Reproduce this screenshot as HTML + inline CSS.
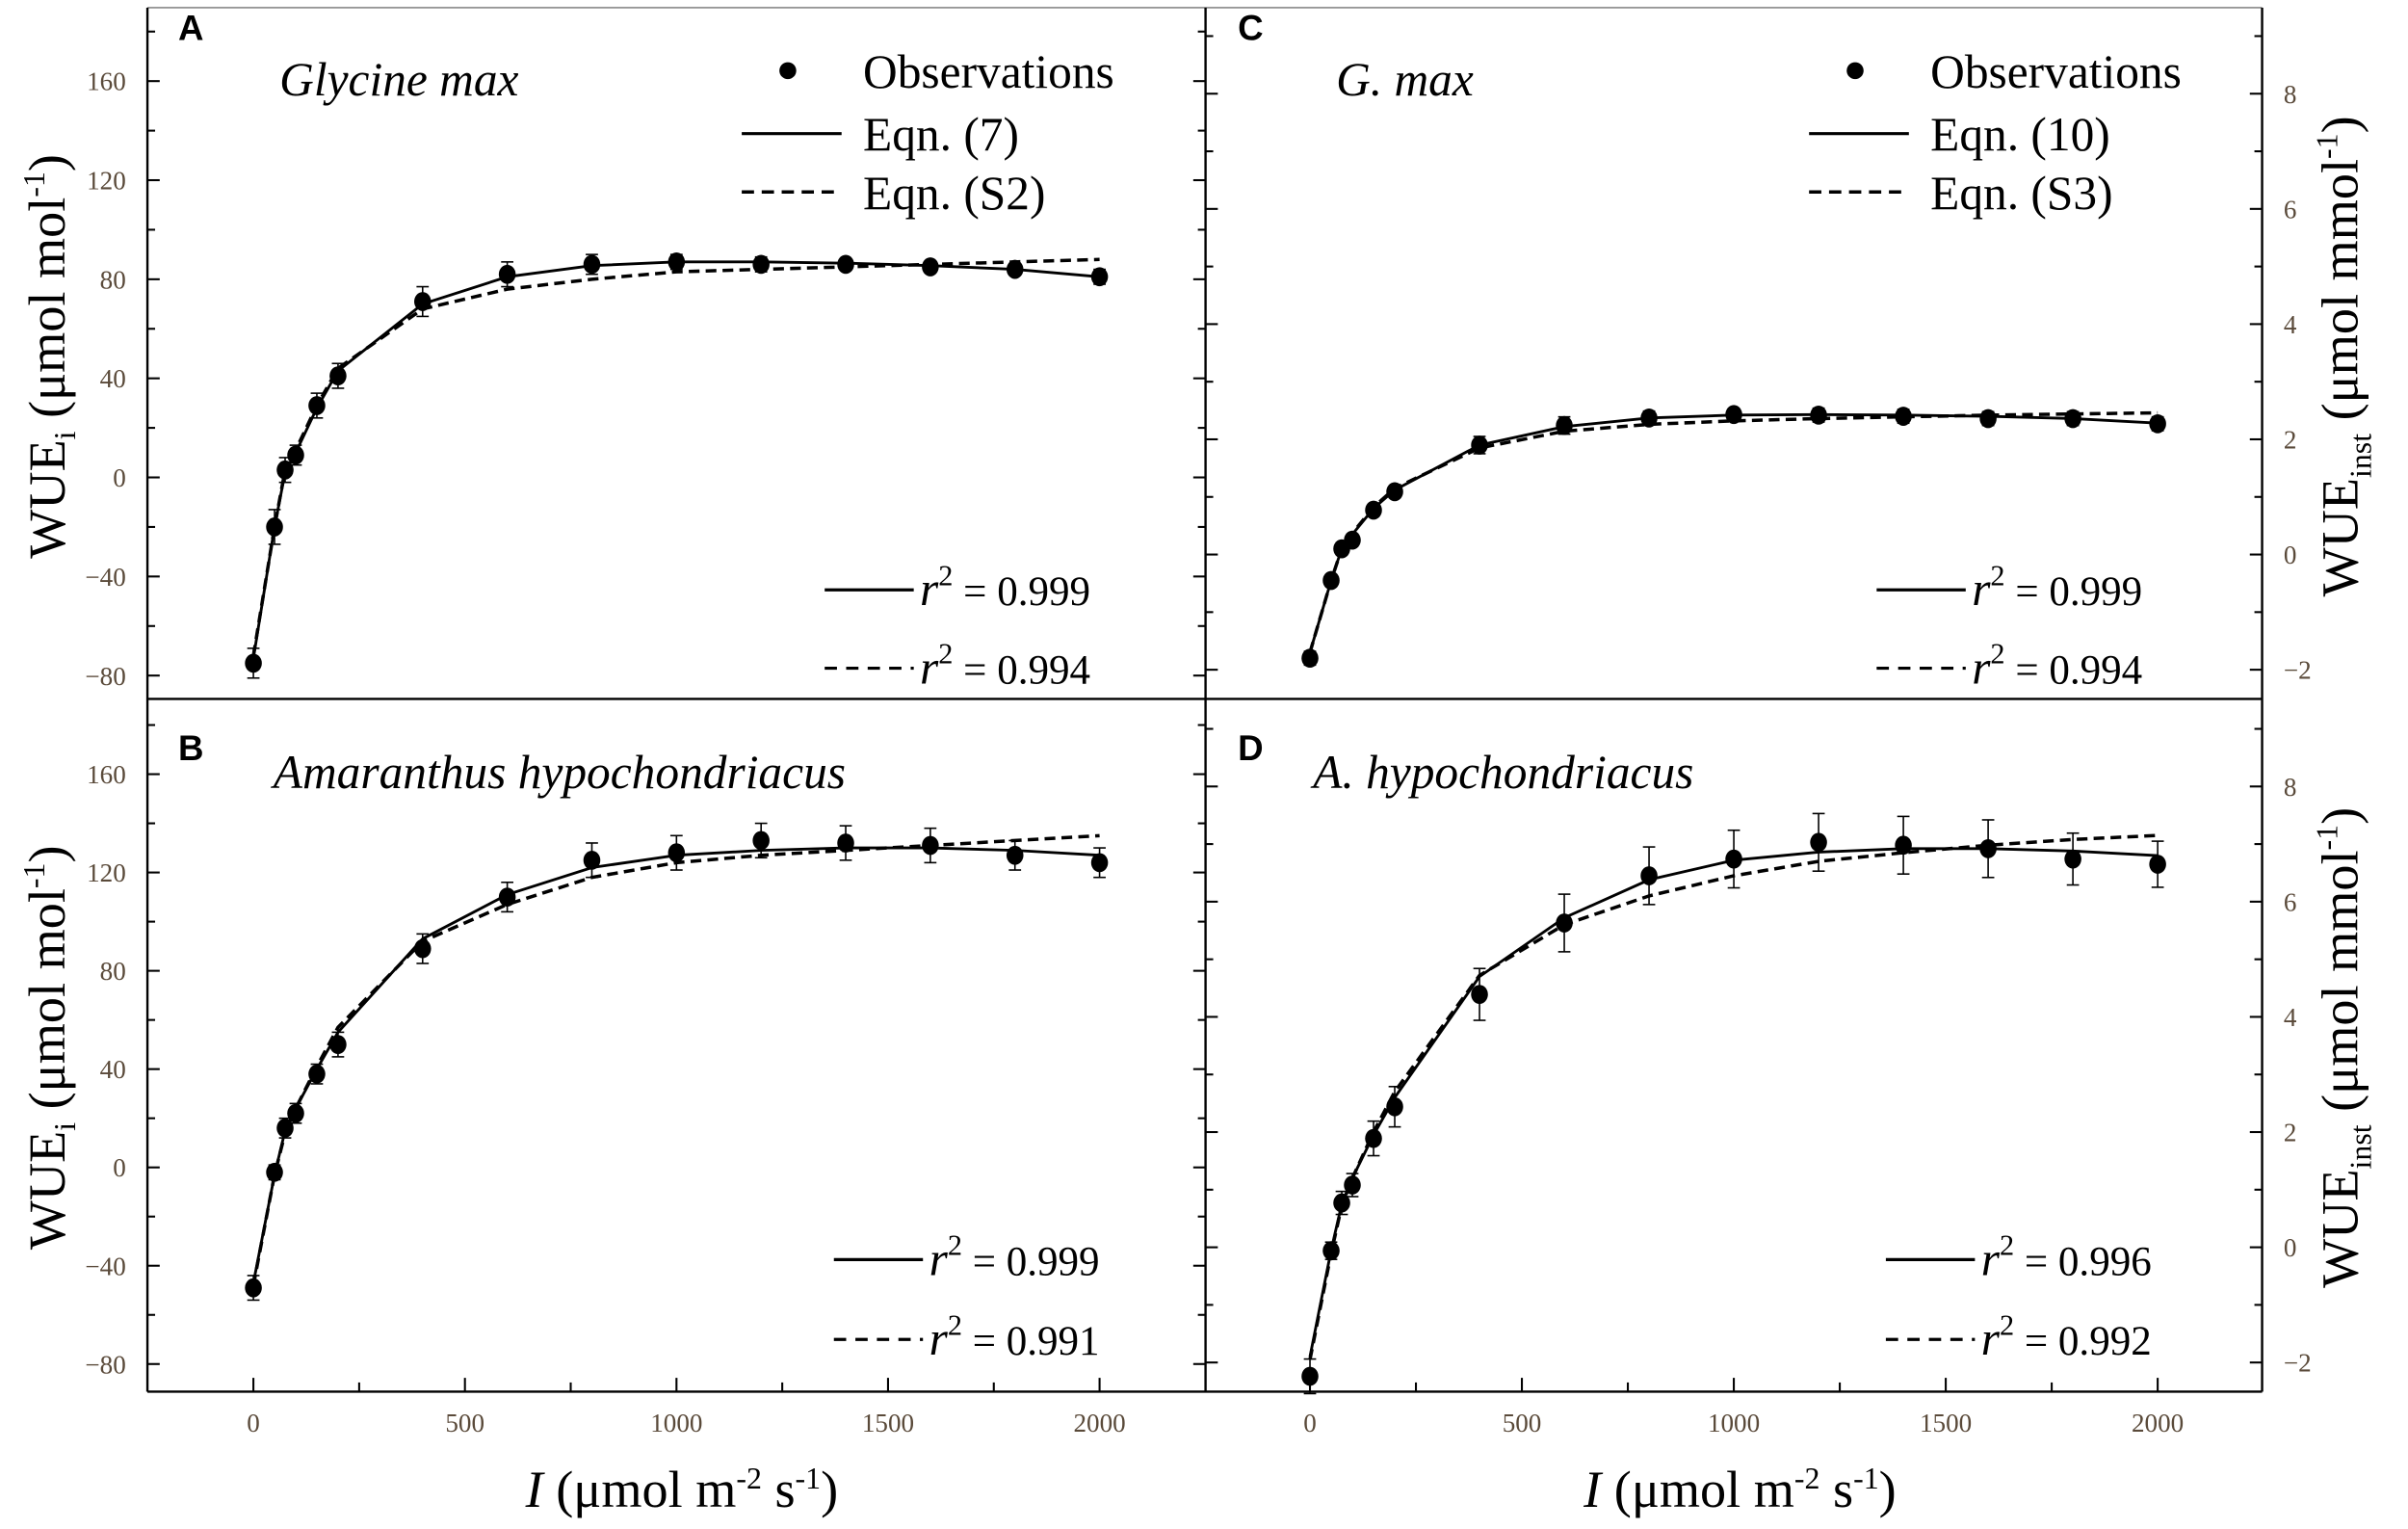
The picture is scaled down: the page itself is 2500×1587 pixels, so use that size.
<!DOCTYPE html>
<html><head><meta charset="utf-8">
<style>
html,body{margin:0;padding:0;background:#fff;}
svg{display:block;}
</style></head><body>
<svg id="s" width="2500" height="1587" viewBox="0 0 1568 995.4" preserveAspectRatio="none" xmlns="http://www.w3.org/2000/svg" font-family="'Liberation Serif', serif">
<rect width="1568" height="996" fill="#fff"/>
<g id="g"></g>
<line x1="96" y1="5" x2="1473" y2="5" stroke="#888" stroke-width="1"/>
<line x1="96" y1="5" x2="96" y2="906" stroke="#000" stroke-width="1.5"/>
<line x1="1473" y1="5" x2="1473" y2="906" stroke="#000" stroke-width="1.5"/>
<line x1="785" y1="5" x2="785" y2="906" stroke="#000" stroke-width="1.5"/>
<line x1="96" y1="455" x2="1473" y2="455" stroke="#000" stroke-width="1.5"/>
<line x1="96" y1="906" x2="1473" y2="906" stroke="#000" stroke-width="1.5"/>
<g font-family="'Liberation Sans', sans-serif" font-size="23" font-weight="bold">
<text x="116" y="26">A</text>
<text x="116" y="495">B</text>
<text x="806" y="26">C</text>
<text x="806" y="495">D</text>
</g>
<g font-family="'Liberation Serif', serif" font-size="31" font-style="italic">
<text x="182" y="62">Glycine max</text>
<text x="870" y="62">G. max</text>
<text x="178" y="513">Amaranthus hypochondriacus</text>
<text x="855" y="513">A. hypochondriacus</text>
</g>
<g font-family="'Liberation Serif', serif" font-size="31">
<circle cx="513" cy="46" r="5.5"/>
<text x="562" y="57">Observations</text>
<line x1="483" y1="87" x2="548" y2="87" stroke="#000" stroke-width="2"/>
<text x="562" y="98">Eqn. (7)</text>
<line x1="483" y1="125" x2="548" y2="125" stroke="#000" stroke-width="2.2" stroke-dasharray="8,5"/>
<text x="562" y="136">Eqn. (S2)</text>
<circle cx="1208" cy="46" r="5.5"/>
<text x="1257" y="57">Observations</text>
<line x1="1178" y1="87" x2="1243" y2="87" stroke="#000" stroke-width="2"/>
<text x="1257" y="98">Eqn. (10)</text>
<line x1="1178" y1="125" x2="1243" y2="125" stroke="#000" stroke-width="2.2" stroke-dasharray="8,5"/>
<text x="1257" y="136">Eqn. (S3)</text>
</g>
<g id="r2"></g>
<g font-family="'Liberation Serif', serif" font-size="34">
<text transform="translate(42,232) rotate(-90)" text-anchor="middle">WUE<tspan font-size="20" dy="7">i</tspan><tspan dy="-7"> (μmol mol</tspan><tspan font-size="20" dy="-13">-1</tspan><tspan dy="13">)</tspan></text>
<text transform="translate(42,682) rotate(-90)" text-anchor="middle">WUE<tspan font-size="20" dy="7">i</tspan><tspan dy="-7"> (μmol mol</tspan><tspan font-size="20" dy="-13">-1</tspan><tspan dy="13">)</tspan></text>
<text transform="translate(1535,232) rotate(-90)" text-anchor="middle">WUE<tspan font-size="20" dy="9">inst</tspan><tspan dy="-9"> (μmol mmol</tspan><tspan font-size="20" dy="-13">-1</tspan><tspan dy="13">)</tspan></text>
<text transform="translate(1535,682) rotate(-90)" text-anchor="middle">WUE<tspan font-size="20" dy="9">inst</tspan><tspan dy="-9"> (μmol mmol</tspan><tspan font-size="20" dy="-13">-1</tspan><tspan dy="13">)</tspan></text>
<text x="444" y="981" text-anchor="middle"><tspan font-style="italic">I</tspan> (μmol m<tspan font-size="20" dy="-12">-2</tspan><tspan dy="12"> s</tspan><tspan font-size="20" dy="-12">-1</tspan><tspan dy="12">)</tspan></text>
<text x="1133" y="981" text-anchor="middle"><tspan font-style="italic">I</tspan> (μmol m<tspan font-size="20" dy="-12">-2</tspan><tspan dy="12"> s</tspan><tspan font-size="20" dy="-12">-1</tspan><tspan dy="12">)</tspan></text>
</g>
</svg>
<script>
var NS="http://www.w3.org/2000/svg",g=document.getElementById('g');
function el(t,a,p){var e=document.createElementNS(NS,t);for(var k in a)e.setAttribute(k,a[k]);(p||g).appendChild(e);return e;}
function txt(a,s,p){var e=el('text',a,p);e.textContent=s;return e;}
var X=[0,50,75,100,150,200,400,600,800,1000,1200,1400,1600,1800,2000];
var P=[
 {x0:165,x1:716,y0:310.8,k:-64.5/40,obs:[-75,-20,3,9,29,41,71,82,86,87,86,86,85,84,81],err:[6,7,5,4,5,5,6,5,4,3,3,2,2,2,3],
  sol:[-73,-20,2,10,28,43,70,81,85.5,87,87,86.5,85.5,84,81],das:[-72,-20,3,11,29,44,68,76,80,83,84,85,86,87,88],xmn:96,xmx:785,ymn:-80,ymx:180,st:20,lab:40,left:true},
 {x0:165,x1:716,y0:760,k:-64/40,obs:[-49,-2,16,22,38,50,89,110,125,128,133,132,131,127,124],err:[5,3,4,4,4,5,6,6,7,7,7,7,7,6,6],
  sol:[-47,-3,15,24,40,55,93,111,122,127,129,130,130,129,127],das:[-48,-3,14,24,41,57,92,107,118,124,127,129,131,133,135],xmn:96,xmx:785,ymn:-80,ymx:180,st:20,lab:40,left:true},
 {x0:853,x1:1405,y0:361,k:-37.5,obs:[-1.8,-0.45,0.1,0.25,0.77,1.09,1.9,2.24,2.37,2.43,2.42,2.4,2.36,2.36,2.27],err:[.12,.1,.1,.1,.1,.1,.15,.15,.12,.1,.12,.12,.12,.12,.12],
  sol:[-1.7,-0.45,0.1,0.35,0.8,1.12,1.9,2.22,2.37,2.42,2.43,2.42,2.4,2.36,2.28],das:[-1.7,-0.45,0.1,0.37,0.82,1.15,1.85,2.14,2.26,2.32,2.36,2.39,2.42,2.44,2.46],xmn:785,xmx:1473,ymn:-2,ymx:9.5,st:1,lab:2,left:false},
 {x0:853,x1:1405,y0:812,k:-37.5,obs:[-2.24,-0.06,0.77,1.08,1.89,2.44,4.39,5.63,6.45,6.74,7.03,6.98,6.92,6.74,6.65],err:[.3,.15,.2,.2,.3,.35,.45,.5,.5,.5,.5,.5,.5,.45,.4],
  sol:[-1.9,-0.05,0.75,1.2,1.95,2.6,4.7,5.72,6.38,6.72,6.86,6.92,6.92,6.88,6.8],das:[-1.95,-0.1,0.72,1.2,2.0,2.7,4.72,5.6,6.1,6.45,6.7,6.85,6.98,7.08,7.15],xmn:785,xmx:1473,ymn:-2,ymx:9.5,st:1,lab:2,left:false}
];
var TF="'Liberation Serif', serif";
P.forEach(function(p,i){
 var top=i%2==0?5:455,bot=i%2==0?455:906;
 function px(v){return p.x0+(p.x1-p.x0)*v/2000;}
 function py(v){return p.y0+p.k*v;}
 for(var v=p.ymn;v<=p.ymx+1e-9;v+=p.st){
  var y=py(v); if(y<top+2||y>bot-2)continue;
  var maj=Math.abs(Math.round(v/p.lab)*p.lab-v)<1e-6, L=maj?8:5;
  el('line',{x1:p.xmn,y1:y,x2:p.xmn+L,y2:y,stroke:'#000','stroke-width':1.3});
  el('line',{x1:p.xmx,y1:y,x2:p.xmx-L,y2:y,stroke:'#000','stroke-width':1.3});
  if(maj){
   txt({'font-family':TF,'font-size':17,fill:'#5a4a3a',x:p.left?p.xmn-14:p.xmx+14,y:y+6,'text-anchor':p.left?'end':'start'},(v<0?'\u2212':'')+Math.abs(v));
  }
 }
 if(i%2==1){
  for(var v=0;v<=2000;v+=250){var x=px(v);el('line',{x1:x,y1:906,x2:x,y2:v%500==0?897:900,stroke:'#000','stroke-width':1.3});
   if(v%500==0){txt({'font-family':TF,'font-size':17,fill:'#5a4a3a',x:x,y:932,'text-anchor':'middle'},v);}}
 }
 el('polyline',{points:X.map(function(x,j){return px(x)+','+py(p.das[j]);}).join(' '),fill:'none',stroke:'#000','stroke-width':2.2,'stroke-dasharray':'7,4'});
 el('polyline',{points:X.map(function(x,j){return px(x)+','+py(p.sol[j]);}).join(' '),fill:'none',stroke:'#000','stroke-width':1.8});
 X.forEach(function(x,j){
  var cx=px(x),y1=py(p.obs[j]+p.err[j]),y2=py(p.obs[j]-p.err[j]);
  el('line',{x1:cx,y1:y1,x2:cx,y2:y2,stroke:'#000','stroke-width':1});
  el('line',{x1:cx-4,y1:y1,x2:cx+4,y2:y1,stroke:'#000','stroke-width':1});
  el('line',{x1:cx-4,y1:y2,x2:cx+4,y2:y2,stroke:'#000','stroke-width':1});
  el('ellipse',{cx:cx,cy:py(p.obs[j]),rx:5.5,ry:6.2,fill:'#000'});
 });
});
var R=document.getElementById('r2');
[[537,384,'0.999',0],[537,435,'0.994',1],[1222,384,'0.999',0],[1222,435,'0.994',1],[543,820,'0.999',0],[543,872,'0.991',1],[1228,820,'0.996',0],[1228,872,'0.992',1]].forEach(function(a){
 var l=el('line',{x1:a[0],y1:a[1],x2:a[0]+58,y2:a[1],stroke:'#000','stroke-width':2},R);
 if(a[3])l.setAttribute('stroke-dasharray','8,6');
 var t=el('text',{'font-family':TF,'font-size':31,x:a[0]+62,y:a[1]+10},R);
 el('tspan',{'font-style':'italic'},t).textContent='r';
 el('tspan',{'font-size':19,dy:-13},t).textContent='2';
 el('tspan',{'font-size':27,dy:13},t).textContent=' = '+a[2];
});
</script>
</body></html>
